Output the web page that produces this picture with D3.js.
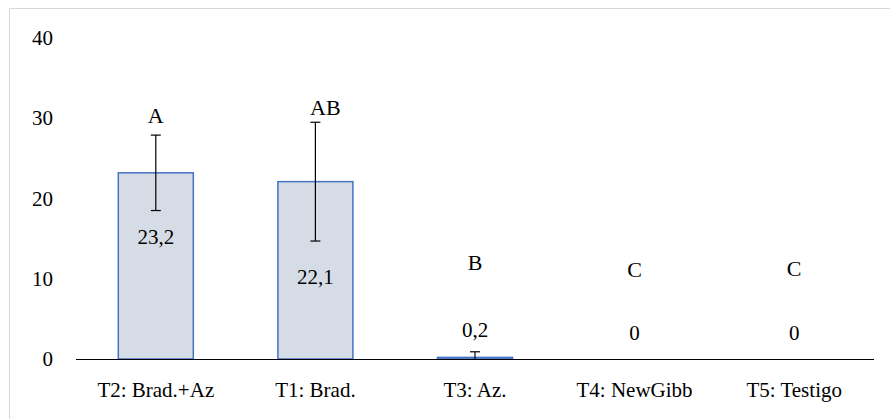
<!DOCTYPE html>
<html><head><meta charset="utf-8">
<script src="https://cdn.jsdelivr.net/npm/d3@7"></script>
<style>body{margin:0;background:#fff}svg{display:block}</style>
</head><body><svg id="c" width="890" height="419"></svg>
<script>
const categories = ["T2: Brad.+Az", "T1: Brad.", "T3: Az.", "T4: NewGibb", "T5: Testigo"];
const values = [23.2, 22.1, 0.2, 0, 0];
const errors = [4.7, 7.4, 0.7, 0, 0];
const valueLabels = ["23,2", "22,1", "0,2", "0", "0"];
const letters = ["A", "AB", "B", "C", "C"];
const letterPos = [30.3, 31.4, 12.0, 11.2, 11.3];
const valueLabelPos = [15.2, 10.2, 3.6, 3.2, 3.2];
const yTicks = [0, 10, 20, 30, 40];

const svg = d3.select("#c");
svg.append("rect").attr("x", 9.5).attr("y", 8.5).attr("width", 900).attr("height", 420)
  .attr("fill", "none").attr("stroke", "#d9d9d9").attr("stroke-width", 1);

const x = d3.scaleBand().domain(categories).range([76, 874]).padding(0);
const y = d3.scaleLinear().domain([0, 40]).range([359, 38]);
const bw = x.bandwidth() * 0.47;
const cx = c => x(c) + x.bandwidth() / 2;

// y tick labels
yTicks.forEach(d => {
  svg.append("text").attr("x", 53).attr("y", y(d) + 7)
    .attr("font-family", "Liberation Serif").attr("font-size", 21)
    .attr("text-anchor", "end").text(d);
});

// bars
svg.append("g").selectAll("rect").data(values).join("rect")
  .attr("x", (d, i) => cx(categories[i]) - bw / 2)
  .attr("y", d => y(d))
  .attr("width", bw)
  .attr("height", d => y(0) - y(d))
  .attr("fill", "#d6dce5")
  .attr("stroke", d => d > 0 ? "#4472c4" : "#d0d0d0")
  .attr("stroke-width", 1.5);

// axis line
svg.append("line").attr("x1", 76).attr("x2", 874).attr("y1", y(0) + 0.5).attr("y2", y(0) + 0.5)
  .attr("stroke", "#000").attr("stroke-width", 1);

// error bars
values.forEach((v, i) => {
  if (errors[i] <= 0) return;
  const c = cx(categories[i]);
  const hi = v + errors[i], lo = Math.max(0, v - errors[i]);
  const ln = (x1, x2, y1, y2) => svg.append("line").attr("x1", x1).attr("x2", x2)
    .attr("y1", y1).attr("y2", y2).attr("stroke", "#000").attr("stroke-width", 1.2);
  ln(c, c, y(hi), y(lo));
  ln(c - 5, c + 5, y(hi), y(hi));
  if (v - errors[i] > 0) ln(c - 5, c + 5, y(lo), y(lo));
});

// value labels, letters, category labels
categories.forEach((c, i) => {
  svg.append("text").attr("x", cx(c)).attr("y", y(valueLabelPos[i]) + 7)
    .attr("font-family", "Liberation Serif").attr("font-size", 21)
    .attr("text-anchor", "middle").text(valueLabels[i]);
  svg.append("text").attr("x", cx(c) + (letters[i].length > 1 ? 10 : 0)).attr("y", y(letterPos[i]) + 7.5)
    .attr("font-family", "Liberation Serif").attr("font-size", 22)
    .attr("text-anchor", "middle").text(letters[i]);
  svg.append("text").attr("x", cx(c)).attr("y", 397)
    .attr("font-family", "Liberation Serif").attr("font-size", 21)
    .attr("text-anchor", "middle").text(c);
});
</script></body></html>
